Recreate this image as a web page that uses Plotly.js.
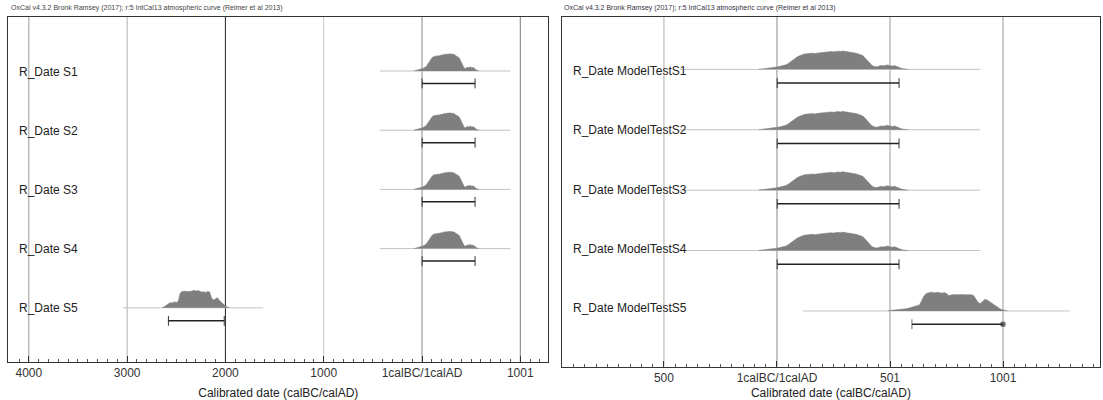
<!DOCTYPE html>
<html>
<head>
<meta charset="utf-8">
<script src="https://cdn.plot.ly/plotly-3.0.1.min.js"></script>
<style>html,body{margin:0;padding:0;background:#fff;}#chart{width:1103px;height:400px;}</style>
</head>
<body>
<div id="chart"></div>
<script>
// ---------------- DATA ----------------
const leftLabels = ['R_Date S1', 'R_Date S2', 'R_Date S3', 'R_Date S4', 'R_Date S5'];
const rightLabels = ['R_Date ModelTestS1', 'R_Date ModelTestS2', 'R_Date ModelTestS3', 'R_Date ModelTestS4', 'R_Date ModelTestS5'];

// Probability profile of S1–S4 (years, BC negative / AD positive)
const adYears = [-80,-70,-60,-50,-40,-30,-20,-10,0,10,20,30,40,50,60,70,80,90,100,110,120,130,140,150,160,170,180,190,200,210,220,230,240,250,260,270,280,290,300,310,320,330,340,350,360,370,380,390,400,410,420,430,440,450,460,470,480,490,500,510,520,530,540,550,560,570,580];
const adDensity = [0.01,0.02,0.03,0.05,0.06,0.08,0.09,0.11,0.13,0.15,0.17,0.20,0.25,0.32,0.42,0.52,0.60,0.68,0.74,0.80,0.83,0.85,0.84,0.87,0.88,0.86,0.89,0.91,0.90,0.93,0.94,0.96,0.97,0.95,0.98,0.99,0.97,1.00,0.98,0.96,0.97,0.93,0.90,0.88,0.84,0.80,0.75,0.62,0.48,0.33,0.22,0.16,0.14,0.17,0.21,0.19,0.22,0.24,0.20,0.18,0.21,0.15,0.10,0.06,0.03,0.02,0.01];
const adRangeLine = [-430, 900];   // faint baseline extent
const adBracket = [1, 540];        // 95.4% range

// Left S5 (BC)
const bcYears = [-2640,-2620,-2600,-2580,-2560,-2540,-2520,-2500,-2480,-2460,-2440,-2420,-2400,-2380,-2360,-2340,-2320,-2300,-2280,-2260,-2240,-2220,-2200,-2180,-2160,-2140,-2120,-2100,-2080,-2060,-2040,-2020,-2000,-1980,-1960];
const bcDensity = [0.02,0.08,0.15,0.22,0.30,0.28,0.35,0.30,0.38,0.85,0.93,0.95,0.94,0.96,0.93,0.97,1.00,0.96,0.99,0.95,0.90,0.92,0.88,0.94,0.90,0.55,0.45,0.52,0.58,0.42,0.30,0.18,0.10,0.04,0.01];
const bcRangeLine = [-3040, -1615];
const bcBracket = [-2580, -2012];

// Right ModelTestS5 (AD)
const s5Years = [490,500,510,520,530,540,550,560,570,580,590,600,610,620,630,640,650,660,670,680,690,700,710,720,730,740,750,760,770,780,790,800,810,820,830,840,850,860,870,880,890,900,910,920,930,940,950,960,970,980,990,1000,1010,1020];
const s5Density = [0.01,0.02,0.03,0.04,0.05,0.06,0.08,0.10,0.12,0.14,0.17,0.19,0.22,0.26,0.32,0.55,0.80,0.93,0.98,1.00,0.99,0.97,1.00,0.96,0.95,0.98,0.93,0.82,0.86,0.88,0.87,0.88,0.86,0.88,0.87,0.88,0.86,0.87,0.82,0.62,0.45,0.40,0.52,0.62,0.58,0.50,0.42,0.33,0.25,0.16,0.09,0.05,0.02,0.01];
const s5RangeLine = [115, 1296];
const s5Bracket = [597, 1000];

// Axis ticks
const leftTickVals = [-4000, -3000, -2000, -1000, 0, 1000];
const leftTickText = ['4000', '3000', '2000', '1000', '1calBC/1calAD', '1001'];
const rightTickVals = [-500, 0, 500, 1000];
const rightTickText = ['500', '1calBC/1calAD', '501', '1001'];

const headerText = 'OxCal v4.3.2 Bronk Ramsey (2017); r:5 IntCal13 atmospheric curve (Reimer et al 2013)';
const axisTitle = 'Calibrated date (calBC/calAD)';

// ---------------- BUILD ----------------
const FONT = 'Liberation Sans, Arial, sans-serif';
const traces = [];

function addRow(xa, ya, row, years, dens, rangeLine, bracket, h, bOff, squareEnd) {
  traces.push({x: rangeLine, y: [row, row], xaxis: xa, yaxis: ya, mode: 'lines',
    line: {color: '#c4c4c4', width: 1}, hoverinfo: 'skip'});
  const xs = [years[0]].concat(years, [years[years.length - 1]]);
  const ys = [row].concat(dens.map(d => row - d * h), [row]);
  traces.push({x: xs, y: ys, xaxis: xa, yaxis: ya, mode: 'lines', fill: 'toself',
    fillcolor: '#7f7f7f', line: {color: '#7f7f7f', width: 0.5}, hoverinfo: 'skip'});
  traces.push({x: bracket, y: [row + bOff, row + bOff], xaxis: xa, yaxis: ya, mode: 'lines+markers',
    line: {color: '#222', width: 1.5},
    marker: {symbol: squareEnd ? ['line-ns-open', 'square'] : 'line-ns-open', size: squareEnd ? [7, 4] : 7,
      color: '#333', line: {color: '#333', width: 1}}, hoverinfo: 'skip'});
}

for (let i = 0; i < 4; i++) {
  addRow('x', 'y', i, adYears, adDensity, adRangeLine, adBracket, 0.295, 0.21, false);
  addRow('x2', 'y2', i, adYears, adDensity, adRangeLine, adBracket, 0.305, 0.227, false);
}
addRow('x', 'y', 4, bcYears, bcDensity, bcRangeLine, bcBracket, 0.295, 0.22, false);
addRow('x2', 'y2', 4, s5Years, s5Density, s5RangeLine, s5Bracket, 0.31, 0.22, true);

const shapes = [];
const leftLineColors = ['#9a9a9a', '#b0b0b0', '#222', '#c8c8c8', '#8a8a8a', '#7a7a7a'];
leftTickVals.forEach((v, i) => shapes.push({type: 'line', xref: 'x', yref: 'y domain', x0: v, x1: v, y0: 0, y1: 1,
  line: {color: leftLineColors[i], width: 1}, layer: 'below'}));
const rightLineColors = ['#b0b0b0', '#8a8a8a', '#9a9a9a', '#9a9a9a'];
rightTickVals.forEach((v, i) => shapes.push({type: 'line', xref: 'x2', yref: 'y2 domain', x0: v, x1: v, y0: 0, y1: 1,
  line: {color: rightLineColors[i], width: 1}, layer: 'below'}));

const annotations = [];
leftLabels.forEach((t, i) => annotations.push({text: t, xref: 'paper', yref: 'y', x: 16.5 / 1103, y: i + 0.01,
  xanchor: 'left', yanchor: 'middle', showarrow: false, font: {family: FONT, size: 12, color: '#222'}}));
rightLabels.forEach((t, i) => annotations.push({text: t, xref: 'paper', yref: 'y2', x: 571 / 1103, y: i * 0.982 + 0.03,
  xanchor: 'left', yanchor: 'middle', showarrow: false, font: {family: FONT, size: 12, color: '#222'}}));
annotations.push({text: headerText, xref: 'paper', yref: 'paper', x: 9 / 1103, y: 1 - 8.5 / 400,
  xanchor: 'left', yanchor: 'middle', showarrow: false, font: {family: FONT, size: 7, color: '#444'}});
annotations.push({text: headerText, xref: 'paper', yref: 'paper', x: 562 / 1103, y: 1 - 8.5 / 400,
  xanchor: 'left', yanchor: 'middle', showarrow: false, font: {family: FONT, size: 7, color: '#334'}});

function xAxis(domain, range, tv, tt, minorDt, anchor, standoff) {
  return {domain: domain, range: range, anchor: anchor, tickmode: 'array', tickvals: tv, ticktext: tt,
    ticks: 'inside', ticklen: 6, tickcolor: '#333', tickwidth: 1,
    minor: {tickmode: 'linear', tick0: 0, dtick: minorDt, ticks: 'inside', ticklen: 3, tickcolor: '#555', tickwidth: 1, showgrid: false},
    showgrid: false, zeroline: false, showline: true, linecolor: '#333', linewidth: 1, mirror: true,
    tickfont: {family: FONT, size: 12, color: '#333'}, automargin: false, fixedrange: true,
    title: {text: axisTitle, font: {family: FONT, size: 12, color: '#222'}, standoff: standoff}};
}
function yAxis(domain, range, anchor) {
  return {domain: domain, range: range, anchor: anchor, showticklabels: false, ticks: '', showgrid: false,
    zeroline: false, showline: true, linecolor: '#333', linewidth: 1, mirror: true, automargin: false, fixedrange: true};
}

const layout = {
  width: 1103, height: 400, margin: {l: 0, r: 0, t: 0, b: 0},
  paper_bgcolor: '#fff', plot_bgcolor: '#fff', showlegend: false,
  font: {family: FONT},
  xaxis: xAxis([8.3 / 1103, 548.3 / 1103], [-4209, 1285], leftTickVals, leftTickText, 100, 'y', 9),
  yaxis: yAxis([1 - 361.7 / 400, 1 - 17 / 400], [4.91, -0.912], 'x'),
  xaxis2: xAxis([562 / 1103, 1100 / 1103], [-951, 1429], rightTickVals, rightTickText, 50, 'y2', 11),
  yaxis2: yAxis([1 - 366.5 / 400, 1 - 16.7 / 400], [4.92, -0.872], 'x2'),
  shapes: shapes, annotations: annotations
};

Plotly.newPlot('chart', traces, layout, {staticPlot: true, displayModeBar: false});
</script>
</body>
</html>
